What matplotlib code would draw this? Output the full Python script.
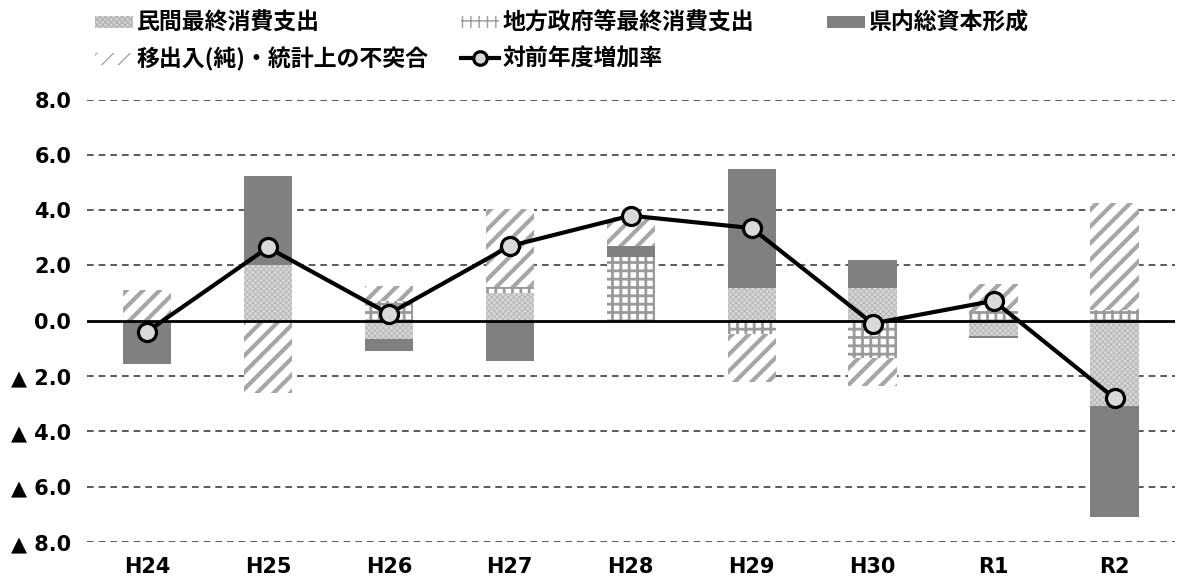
import matplotlib
matplotlib.use("Agg")
import matplotlib.pyplot as plt
import numpy as np

plt.rcParams['font.family'] = ['Noto Sans CJK JP', 'DejaVu Sans']

# data (%)
years = ['H24', 'H25', 'H26', 'H27', 'H28', 'H29', 'H30', 'R1', 'R2']
minkan = [0.0, 2.0, -0.65, 1.0, 0.0, 1.2, 1.2, -0.55, -3.1]
chiho = [0.0, 0.0, 0.7, 0.23, 2.3, -0.47, -1.33, 0.37, 0.4]
shihon = [-1.55, 3.25, -0.45, -1.45, 0.4, 4.3, 1.0, -0.07, -4.0]
ishutsu = [1.1, -2.6, 0.55, 2.82, 1.05, -1.73, -1.02, 0.96, 3.87]
rate = [-0.4, 2.65, 0.25, 2.7, 3.8, 3.35, -0.1, 0.72, -2.8]
yticks = [-8, -6, -4, -2, 0, 2, 4, 6, 8]
ylabels = ['▲ 8.0', '▲ 6.0', '▲ 4.0', '▲ 2.0', '0.0', '2.0', '4.0', '6.0', '8.0']

names = ['民間最終消費支出', '地方政府等最終消費支出', '県内総資本形成', '移出入(純)・統計上の不突合']
series = [minkan, chiho, shihon, ishutsu]
styles = [
    dict(facecolor='#d6d6d6', edgecolor='#b4b4b4', hatch='xxxxxx', hlw=0.6),
    dict(facecolor='white', edgecolor='#9a9a9a', hatch='++', hlw=2.0),
    dict(facecolor='#808080', edgecolor='#808080', hatch=None, hlw=1.0),
    dict(facecolor='white', edgecolor='#a6a6a6', hatch='//', hlw=3.0),
]

fig = plt.figure(figsize=(11.79, 5.83), dpi=100)
ax = fig.add_axes([86.5 / 1179, 1 - 542 / 583, (1175 - 86.5) / 1179, (542 - 99.5) / 583])

x = np.arange(len(years))
pos_bottom = np.zeros(len(years))
neg_bottom = np.zeros(len(years))
handles = []
for vals, name, st in zip(series, names, styles):
    v = np.array(vals)
    bottom = np.where(v >= 0, pos_bottom, neg_bottom)
    bars = ax.bar(x, v, 0.4, bottom=bottom, facecolor=st['facecolor'],
                  edgecolor=st['edgecolor'], hatch=st['hatch'], linewidth=0,
                  label=name, zorder=2)
    for p in bars:
        if hasattr(p, 'set_hatch_linewidth'):
            p.set_hatch_linewidth(st['hlw'])
    handles.append(bars)
    pos_bottom = pos_bottom + np.where(v >= 0, v, 0)
    neg_bottom = neg_bottom + np.where(v < 0, v, 0)

line, = ax.plot(x, rate, color='black', lw=3, marker='o', markersize=13,
                markerfacecolor='#d9d9d9', markeredgecolor='black',
                markeredgewidth=2.3, zorder=4, label='対前年度増加率')

for t in yticks:
    if t == 0:
        ax.axhline(0, color='black', lw=2, zorder=3)
    else:
        ax.axhline(t, color='#404040', lw=1.2, dashes=(4, 3), zorder=1)

ax.set_xlim(-0.5, len(years) - 0.5)
ax.set_ylim(-8, 8)
ax.set_yticks(yticks)
ax.set_yticklabels(ylabels)
ax.set_xticks(x)
ax.set_xticklabels(years)
ax.tick_params(length=0, labelsize=15, pad=11)
for lab in ax.get_xticklabels() + ax.get_yticklabels():
    lab.set_fontweight('bold')
    lab.set_family(['DejaVu Sans'])
for s in ax.spines.values():
    s.set_visible(False)

# legend: three fixed-width columns like the Excel original
leg_kw = dict(frameon=False, handlelength=1.65, handleheight=0.45, handletextpad=0.15,
              labelspacing=0.55, borderaxespad=0, borderpad=0, markerscale=0.75,
              loc='upper left', prop=dict(size=16.5, weight='bold'))
cols = [([handles[0], handles[3]], [names[0], names[3]], 95),
        ([handles[1], line], [names[1], '対前年度増加率'], 461),
        ([handles[2]], [names[2]], 827)]
for h, l, xpx in cols:
    fig.legend(h, l, bbox_to_anchor=(xpx / 1179, 1 - 12 / 583), **leg_kw)

fig.savefig('out.png', dpi=100)
